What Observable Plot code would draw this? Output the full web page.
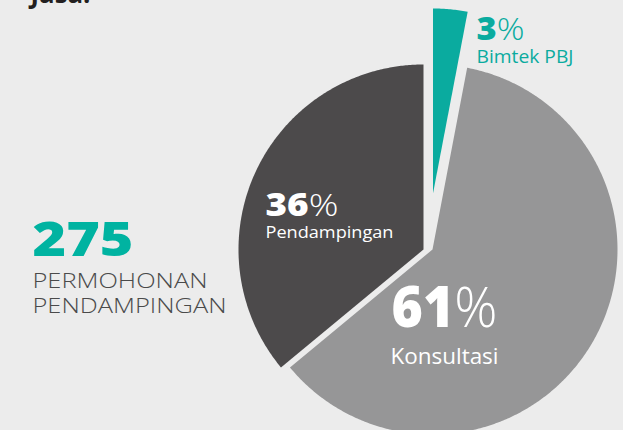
<!DOCTYPE html>
<html>
<head>
<meta charset="utf-8">
<script src="https://cdn.jsdelivr.net/npm/d3@7"></script>
<script src="https://cdn.jsdelivr.net/npm/@observablehq/plot@0.6"></script>
<style>
  html, body { margin: 0; padding: 0; background: #ececec; overflow: hidden; }
  #chart svg { display: block; background: #ececec; }
</style>
</head>
<body>
<div id="chart"></div>
<script>
// ---------- data ----------
const categories = ["Bimtek PBJ", "Konsultasi", "Pendampingan"];
const percents = [3, 61, 36];
const totalRequests = 275;
const totalLabelLines = ["PERMOHONAN", "PENDAMPINGAN"];
const topText = "Jasa.";

// ---------- styles / layout ----------
const sliceColors = ["#0aab9f", "#969697", "#4c4a4b"];
const labelColors = ["#0aab9f", "#ffffff", "#ffffff"];
const W = 623, H = 430, R = 185, cx = 427.5, cy = 249;
const FONT = "'Open Sans', Lato, sans-serif";
// explode offsets in px (screen dx, dy)
const explode = [[5, -56], [4.5, 0], [-4.5, 0]];
// label anchors (px): [pctX, pctBaseline, pctSize, nameX, nameBaseline, nameSize]
const labelLayout = [
  [476, 39, 31, 476, 62, 18],
  [391, 326, 56, 390, 363, 22],
  [265, 215, 31, 265, 237, 17]
];
// rendered widths (px) of the typeface used in the original (wide geometric sans)
const textWidths = [
  [48, 97],
  [106, 108],
  [73, 128]
];
const totalWidths = {number: 101, lines: [175, 194], top: 60};

const ux = px => (px - cx) / R;
const uy = py => (cy - py) / R;

// ---------- pie geometry ----------
const arcs = d3.pie().sort(null).value(d => d.value)
  (categories.map((c, i) => ({category: c, value: percents[i], i})));

const polyPts = [];
arcs.forEach(a => {
  const i = a.data.i;
  const ox = explode[i][0] / R, oy = -explode[i][1] / R;
  polyPts.push({category: a.data.category, x: ox, y: oy});
  const steps = Math.max(8, Math.ceil((a.endAngle - a.startAngle) / (Math.PI / 360)));
  for (let k = 0; k <= steps; k++) {
    const t = a.startAngle + (a.endAngle - a.startAngle) * k / steps;
    polyPts.push({category: a.data.category, x: ox + Math.sin(t), y: oy + Math.cos(t)});
  }
});

const marks = [
  Plot.line(polyPts, {
    x: "x", y: "y", z: "category", fill: "category", stroke: null,
    curve: "linear-closed"
  })
];

const widthByText = new Map();
categories.forEach((c, i) => {
  const L = labelLayout[i];
  const pct = `${percents[i]}%`;
  widthByText.set(pct, textWidths[i][0]);
  widthByText.set(c, textWidths[i][1]);
  marks.push(Plot.text([{t: pct}], {
    x: () => ux(L[0]), y: () => uy(L[1]), text: "t",
    textAnchor: "start", lineAnchor: "bottom", fontSize: L[2],
    fill: labelColors[i], fontFamily: FONT
  }));
  marks.push(Plot.text([{t: c}], {
    x: () => ux(L[3]), y: () => uy(L[4]), text: "t",
    textAnchor: "start", lineAnchor: "bottom", fontSize: L[5],
    fill: labelColors[i], fontFamily: FONT, fontWeight: 400
  }));
});

// total headline
widthByText.set(String(totalRequests), totalWidths.number);
marks.push(Plot.text([{t: String(totalRequests)}], {
  x: () => ux(32), y: () => uy(255), text: "t",
  textAnchor: "start", lineAnchor: "bottom", fontSize: 47,
  fill: "#00b3a1", fontFamily: FONT, fontWeight: 800
}));
totalLabelLines.forEach((s, k) => {
  widthByText.set(s, totalWidths.lines[k]);
  marks.push(Plot.text([{t: s}], {
    x: () => ux(32), y: () => uy(287 + 25 * k), text: "t",
    textAnchor: "start", lineAnchor: "bottom", fontSize: 20,
    fill: "#4a4a4a", fontFamily: FONT, fontWeight: 300
  }));
});
// cut-off title at the top (only the bottom of its glyphs is visible)
widthByText.set(topText, totalWidths.top);
marks.push(Plot.text([{t: topText}], {
  x: () => ux(30), y: () => uy(2.5), text: "t",
  textAnchor: "start", lineAnchor: "bottom", fontSize: 26,
  fill: "#231f20", fontFamily: FONT, fontWeight: 700
}));

const svg = Plot.plot({
  width: W, height: H,
  margin: 0,
  style: {background: "#ececec", fontFamily: FONT, overflow: "hidden"},
  x: {domain: [ux(0), ux(W)], range: [0, W], axis: null},
  y: {domain: [uy(H), uy(0)], range: [H, 0], axis: null},
  color: {domain: categories, range: sliceColors},
  marks
});

d3.select(svg).selectAll("text").each(function () {
  const s = this.textContent;
  if (widthByText.has(s)) {
    this.setAttribute("textLength", widthByText.get(s));
    this.setAttribute("lengthAdjust", "spacingAndGlyphs");
  }
  // bold number + light percent sign
  const m = /^(\d+)%$/.exec(s);
  if (!m) return;
  this.textContent = "";
  const sel = d3.select(this);
  sel.append("tspan").attr("font-weight", 800).text(m[1]);
  sel.append("tspan").attr("font-weight", 300).text("%");
});

document.getElementById("chart").appendChild(svg);
</script>
</body>
</html>
